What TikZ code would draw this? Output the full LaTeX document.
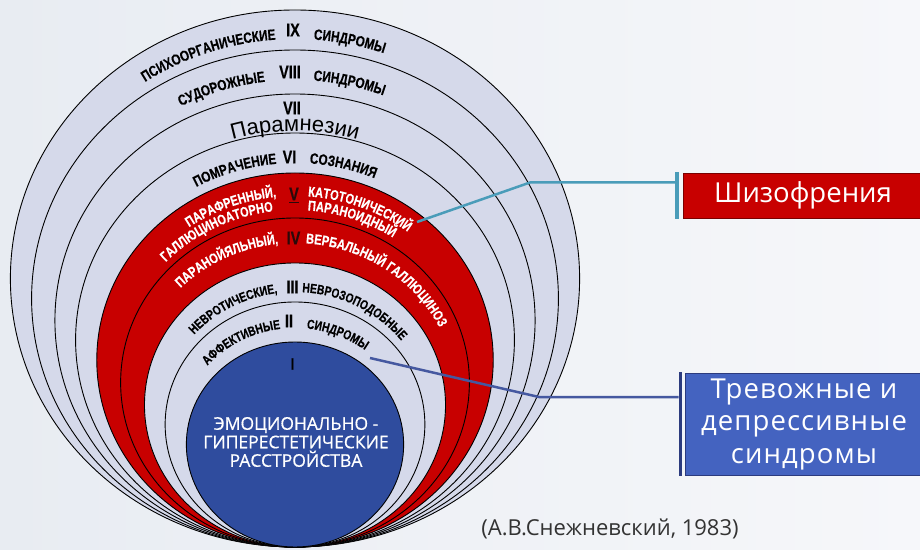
\documentclass[tikz,border=0pt]{standalone}
\usepackage{fontspec}
\setmainfont{Liberation Sans}
\newfontfamily\osans{Open Sans}
\newfontfamily\osanscore[FakeBold=0.6]{Open Sans}
\newfontfamily\osansbox[LetterSpace=4]{Open Sans}
\newfontfamily\narrow[FakeStretch=0.78,FakeBold=0.4]{Liberation Sans}
\usetikzlibrary{decorations.text}
\definecolor{lav}{HTML}{D5D9EA}
\definecolor{rred}{HTML}{C80000}
\definecolor{cblue}{HTML}{2F4C9E}
\definecolor{bblue}{HTML}{4463C0}
\definecolor{tealc}{HTML}{4A9CB9}
\definecolor{navyc}{HTML}{4558A0}
\definecolor{navybar}{HTML}{2C3B7E}
\definecolor{darkred}{HTML}{7A0000}
\definecolor{numdark}{HTML}{2A0A0A}
\definecolor{bgL}{HTML}{E8ECF2}
\definecolor{bgR}{HTML}{F6F7FA}
\definecolor{citec}{HTML}{333333}

\newcommand\ringtext[5]{%
 \pgfmathsetmacro\rtA{#2+50}%
 \pgfmathsetmacro\rtB{#2-50}%
 \pgfmathsetmacro\rtX{1.06*#1}%
 \pgfmathsetmacro\rtSX{295+\rtX*cos(\rtA)}%
 \pgfmathsetmacro\rtSY{2+#1+#1*sin(\rtA)}%
 \path[decorate,decoration={text along path,text align=center,text color=#4,text={|#3|#5}}]
   (\rtSX,\rtSY) arc[start angle=\rtA,end angle=\rtB,x radius=\rtX pt,y radius=#1 pt];%
}
\newcommand\ring[2]{%
 \pgfmathsetmacro\rgX{1.06*#1}%
 \pgfmathsetmacro\rgY{2+#1}%
 \draw[ringline,fill=#2] (295,\rgY) ellipse[x radius=\rgX pt, y radius=#1 pt];%
}
\newcommand\bsm{\narrow\bfseries\fontsize{15}{15}\selectfont}
\newcommand\bsr{\narrow\bfseries\fontsize{14.2}{14.2}\selectfont}
\newcommand\bss{\narrow\bfseries\fontsize{13.2}{13.2}\selectfont}

\tikzset{
 ringline/.style={draw=black,line width=0.9pt},
 num/.style={font=\narrow\bfseries\fontsize{18.5}{18.5}\selectfont, inner sep=0},
 redbox/.style={fill=rred, draw=darkred, line width=0.8pt, minimum width=240pt, minimum height=45pt, inner sep=0, text=white, font=\osans\fontsize{27.5}{27.5}\selectfont},
 bluebox/.style={fill=bblue, draw=navybar, line width=0.8pt, minimum width=238pt, minimum height=102pt, inner sep=0, text=white, align=center, font=\osansbox\fontsize{27.5}{32.5}\selectfont},
 barnode/.style={minimum width=3.5pt, inner sep=0},
 conn/.style={line width=2.5pt}
}

\begin{document}
\begin{tikzpicture}[x=1pt,y=1pt]
\useasboundingbox (0,0) rectangle (920,549);
\shade[left color=bgL, right color=bgR] (0,0) rectangle (920,549);

\ring{268.5}{lav}
\ring{248.5}{lav}
\ring{226.5}{lav}
\ring{207}{lav}
\ring{187}{rred}
\ring{164.5}{rred}
\ring{142}{lav}
\ring{122.5}{lav}
\ring{102.5}{cblue}

% ring IX
\ringtext{254}{109.5}{\bsm}{black}{ПСИХООРГАНИЧЕСКИЕ}
\ringtext{254}{78}{\bsm}{black}{СИНДРОМЫ}
% ring VIII
\ringtext{233.5}{107.7}{\bsm}{black}{СУДОРОЖНЫЕ}
\ringtext{233.5}{77}{\bsm}{black}{СИНДРОМЫ}
% ring VII
\ringtext{208}{90}{\fontsize{22}{22}\selectfont}{black}{Парамнезии}
% ring VI
\ringtext{192}{107.6}{\bsm}{black}{ПОМРАЧЕНИЕ}
\ringtext{192}{76}{\bsm}{black}{СОЗНАНИЯ}
% ring V
\ringtext{175.5}{110.8}{\bsr}{white}{ПАРАФРЕННЫЙ,}
\ringtext{175.5}{68.8}{\bsr}{white}{КАТОТОНИЧЕСКИЙ}
\ringtext{168.5}{117.3}{\bsr}{white}{ГАЛЛЮЦИНОАТОРНО}
\ringtext{168.5}{70.8}{\bsr}{white}{ПАРАНОИДНЫЙ}
% ring IV
\ringtext{152}{116.2}{\bsr}{white}{ПАРАНОЙЯЛЬНЫЙ,}
\ringtext{152}{55.7}{\bsr}{white}{ВЕРБАЛЬНЫЙ ГАЛЛЮЦИНОЗ}
% ring III
\ringtext{127.5}{118.5}{\bss}{black}{НЕВРОТИЧЕСКИЕ,}
\ringtext{127.5}{62}{\bss}{black}{НЕВРОЗОПОДОБНЫЕ}
% ring II
\ringtext{109.5}{118.7}{\bss}{black}{АФФЕКТИВНЫЕ}
\ringtext{109.5}{68}{\bss}{black}{СИНДРОМЫ}

\node[num] (n9) at (293,519) {IX};
\node[num] (n8) at (290,477) {VIII};
\node[num] (n7) at (292,441) {VII};
\node[num] (n6) at (289.5,392) {VI};
\node[num, text=numdark] (n5) at (294,354) {\underline{V}};
\node[num, text=numdark] (n4) at (293.5,311) {IV};
\node[num] (n3) at (292.5,262) {III};
\node[num] (n2) at (289,228) {II};
\node[num, font=\narrow\bfseries\fontsize{16}{16}\selectfont] (n1) at (292.5,185) {I};

\node[align=center, text=white, inner sep=0, font=\osanscore\fontsize{17.5}{18.5}\selectfont] (core) at (296,107) {ЭМОЦИОНАЛЬНО -\\ГИПЕРЕСТЕТИЧЕСКИЕ\\РАССТРОЙСТВА};

\node[redbox] (schiz) at (803,353.5) {Шизофрения};
\node[barnode, fill=tealc, minimum height=47pt] (bar1) at (677,353.5) {};
\node[bluebox] (anx) at (804,125) {Тревожные и\\депрессивные\\синдромы};
\node[barnode, fill=navybar, minimum height=104pt] (bar2) at (680.5,125) {};

\coordinate (c1a) at (417,327);
\coordinate (c1b) at (530,366.5);
\draw[conn, tealc] (c1a) -- (c1b) -- (c1b -| bar1.west);
\coordinate (c2a) at (370,191);
\coordinate (c2b) at (539,152);
\draw[conn, navyc] (c2a) -- (c2b) -- (c2b -| bar2.west);

\node[text=citec, inner sep=0, font=\osans\fontsize{22}{22}\selectfont] (src) at (610,20) {(А.В.Снежневский, 1983)};
\end{tikzpicture}
\end{document}
